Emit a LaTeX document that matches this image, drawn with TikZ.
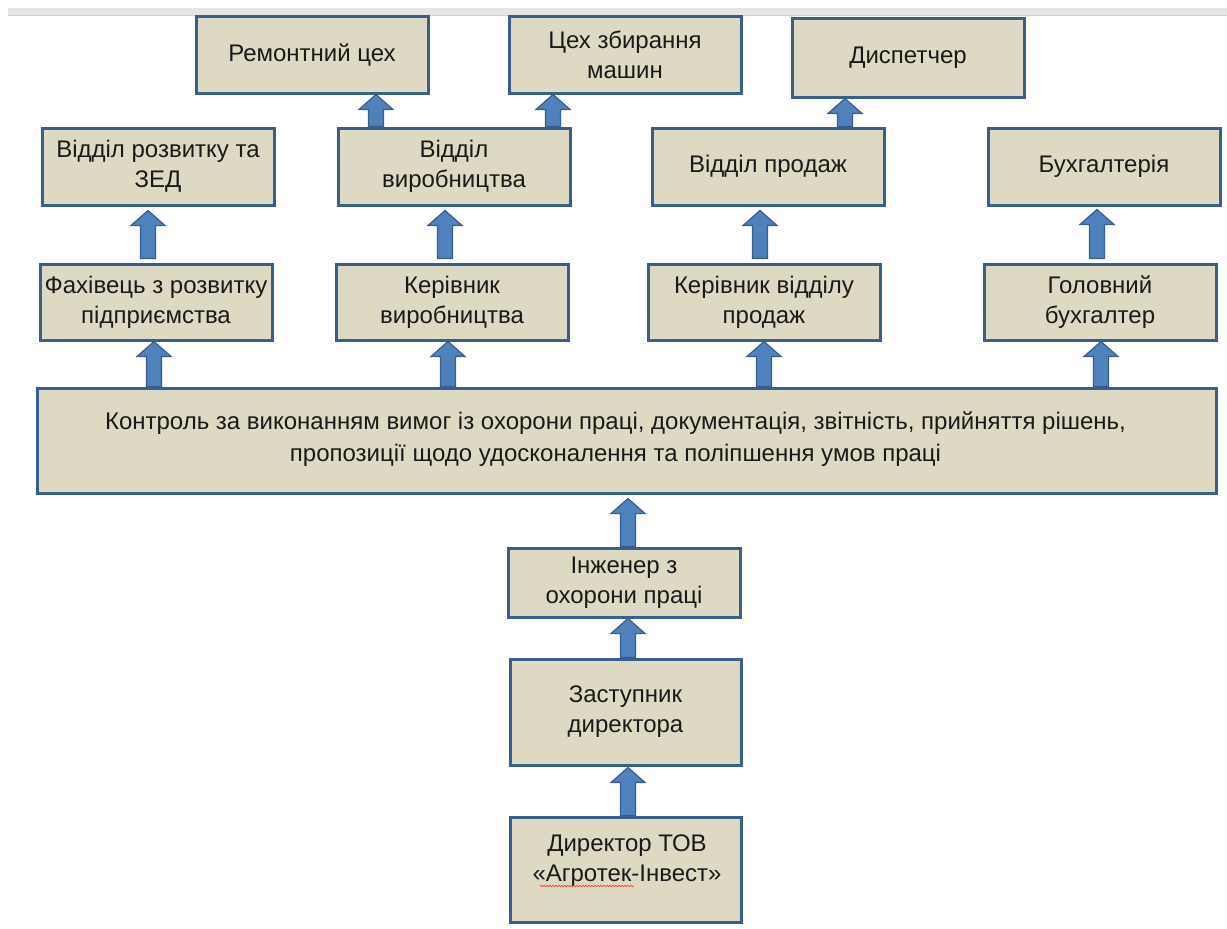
\documentclass[tikz,border=0pt]{standalone}
\usepackage{fontspec}
\setmainfont{Liberation Sans}
\usetikzlibrary{calc,decorations.pathmorphing}
\definecolor{boxfill}{HTML}{DDD9C3}
\definecolor{boxline}{HTML}{3A5F8E}
\definecolor{arrfill}{HTML}{4F81BD}
\definecolor{arrline}{HTML}{385D8A}
\definecolor{txt}{HTML}{1A1A1A}
\newcommand\uparr[5]{%
  \coordinate (ax) at (#1,0);
  \path let \p1=(ax |- #2.north), \p2=(ax |- #3.south) in
    [barr] (\x1-7.5pt,\y1+#4pt) -- (\x1-7.5pt,\y2-#5pt-15pt) -- (\x1-17pt,\y2-#5pt-15pt)
      -- (\x1,\y2-#5pt) -- (\x1+17pt,\y2-#5pt-15pt) -- (\x1+7.5pt,\y2-#5pt-15pt)
      -- (\x1+7.5pt,\y1+#4pt) -- cycle;}
\begin{document}
\begin{tikzpicture}[x=1pt,y=-1pt,
  box/.style={draw=boxline, line width=3pt, fill=boxfill, align=center, text=txt,
    font=\fontsize{24}{30}\selectfont, inner sep=0pt},
  lbl/.style={align=center, text=txt, font=\fontsize{24}{30}\selectfont, inner sep=0pt},
  barr/.style={fill=arrfill, draw=arrline, line width=1.2pt, line join=miter}]
\useasboundingbox (0,0) rectangle (1227,929);
\fill[black!10] (8,8) rectangle (1227,15);
\draw[black!18, line width=1pt] (8,15) -- (1227,15);

% nodes
\node[box, minimum width=232pt, minimum height=77pt] (rem) at (312,54.5) {Ремонтний цех};
\node[box, minimum width=232pt, minimum height=77pt] (cex) at (625,54.5) {Цех збирання\\машин};
\node[box, minimum width=232pt, minimum height=79pt] (disp) at (908,57.5) {Диспетчер};
\node[box, minimum width=232pt, minimum height=77pt] (rozv) at (158,166.5) {Відділ розвитку та\\ЗЕД};
\node[box, minimum width=232pt, minimum height=77pt] (vyr) at (454,166.5) {Відділ\\виробництва};
\node[box, minimum width=232pt, minimum height=77pt] (prod) at (768,166.5) {Відділ продаж};
\node[box, minimum width=232pt, minimum height=77pt] (buh) at (1104,166.5) {Бухгалтерія};
\node[box, minimum width=232pt, minimum height=76pt] (fakh) at (156,302) {Фахівець з розвитку\\підприємства};
\node[box, minimum width=232pt, minimum height=76pt] (kervyr) at (452,302) {Керівник\\виробництва};
\node[box, minimum width=232pt, minimum height=76pt] (kerprod) at (764,302) {Керівник відділу\\продаж};
\node[box, minimum width=232pt, minimum height=76pt] (golbuh) at (1100,302) {Головний\\бухгалтер};
\node[box, minimum width=1179pt, minimum height=105pt] (big) at (626.5,440.5) {};
\node[lbl, font=\fontsize{24}{32}\selectfont] (bigtext) at (615.5,439.5) {Контроль за виконанням вимог із охорони праці, документація, звітність, прийняття рішень,\\пропозиції щодо удосконалення та поліпшення умов праці};
\node[box, minimum width=232pt, minimum height=69pt] (inzh) at (624,582.5) {Інженер з\\охорони праці};
\node[box, minimum width=231pt, minimum height=106pt] (zast) at (625.5,712) {Заступник\\директора};
\node[box, minimum width=231pt, minimum height=105pt] (dyr) at (625.5,869.5) {};
\node[lbl] (dyrtext) at (627,861) {Директор ТОВ\\«Агротек-Інвест»};

% arrows
\uparr{376}{vyr}{rem}{0}{0}
\uparr{553}{vyr}{cex}{0}{0}
\uparr{845}{prod}{disp}{0}{0}
\uparr{148}{fakh}{rozv}{4}{4}
\uparr{445}{kervyr}{vyr}{4}{4}
\uparr{760}{kerprod}{prod}{4}{4}
\uparr{1097}{golbuh}{buh}{4}{3}
\uparr{154}{big}{fakh}{0}{0}
\uparr{448}{big}{kervyr}{0}{0}
\uparr{764}{big}{kerprod}{0}{0}
\uparr{1101}{big}{golbuh}{0}{0}
\uparr{628}{inzh}{big}{0}{4}
\uparr{628}{zast}{inzh}{0}{0}
\uparr{628}{dyr}{zast}{0}{1}

\draw[red!80, line width=0.6pt, decorate, decoration={snake, amplitude=0.8pt, segment length=3pt}] (540,886) -- (634,886);
\end{tikzpicture}
\end{document}
